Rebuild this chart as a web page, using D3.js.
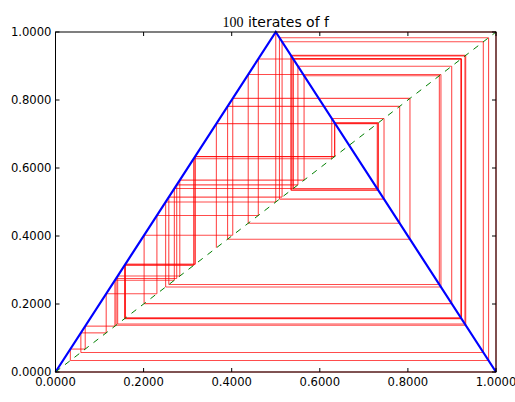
<!DOCTYPE html>
<html>
<head>
<meta charset="utf-8">
<script src="https://cdn.jsdelivr.net/npm/d3@7"></script>
<style>
  body { margin: 0; background: #fff; }
  text { font-family: "DejaVu Sans", sans-serif; fill: #000; }
</style>
</head>
<body>
<svg id="chart" width="515" height="402"></svg>
<script>
"use strict";

// values
let titleNumber = "100";
let titleText = " iterates of f";
let tentX = [0, 0.5, 1];
let tentY = [0, 1, 0];
let diagX = [0, 1];
let diagY = [0, 1];
let xTicks = [0, 0.2, 0.4, 0.6, 0.8, 1.0];
let yTicks = [0, 0.2, 0.4, 0.6, 0.8, 1.0];
// orbit x0..x100, traced from the cobweb
let iterates = [
  0.365201439601276, 0.730402879202552, 0.539194241594896, 0.921611516810208,
  0.156776966379583, 0.313553932759167, 0.627107865518333, 0.745784268963334,
  0.508431462073332, 0.983137075853335, 0.033725848293329, 0.067451696586659,
  0.134903393173317, 0.269806786346635, 0.539613572693270, 0.920772854613460,
  0.158454290773079, 0.316908581546159, 0.633817163092317, 0.732365673815366,
  0.535268652369268, 0.929462695261464, 0.141074609477073, 0.282149218954146,
  0.564298437908292, 0.871403124183416, 0.257193751633167, 0.514387503266335,
  0.971224993467331, 0.057550013065338, 0.115100026130676, 0.230200052261353,
  0.460400104522705, 0.920800209045410, 0.158399581909180, 0.316799163818359,
  0.633598327636719, 0.732803344726563, 0.534393310546875, 0.931213378906250,
  0.137573242187500, 0.275146484375, 0.55029296875, 0.8994140625,
  0.201171875, 0.40234375, 0.8046875, 0.390625, 0.78125, 0.4375,
  0.875, 0.25, 0.5, 1,
  0, 0, 0, 0, 0, 0, 0, 0, 0, 0, 0, 0, 0, 0, 0, 0,
  0, 0, 0, 0, 0, 0, 0, 0, 0, 0, 0, 0, 0, 0, 0, 0,
  0, 0, 0, 0, 0, 0, 0, 0, 0, 0, 0, 0, 0, 0, 0
];

function translate(x, y) {
  return "translate(" + x + "," + y + ")";
}

let svg = d3.select("#chart");
let marginLeft = 55.5, marginTop = 32;
let width = 440.5, height = 340;
let tickLen = 4;
let fmt = d3.format(".4f");

let x = d3.scaleLinear().domain([0, 1]).range([0, width]);
let y = d3.scaleLinear().domain([0, 1]).range([height, 0]);

let root = svg.append("g").attr("transform", translate(marginLeft, marginTop));

// cobweb: vertical to the curve, then horizontal to the diagonal
let segs = [];
for (let i = 0; i < iterates.length - 1; i++) {
  let a = iterates[i], b = iterates[i + 1];
  segs.push([a, a, a, b]);
  segs.push([a, b, b, b]);
}
root.append("g")
  .selectAll("line")
  .data(segs)
  .enter()
  .append("line")
  .attr("x1", (d) => x(d[0]))
  .attr("y1", (d) => y(d[1]))
  .attr("x2", (d) => x(d[2]))
  .attr("y2", (d) => y(d[3]))
  .attr("stroke", "#ff0000")
  .attr("stroke-opacity", 0.7)
  .attr("stroke-width", 1.1);

let line = d3.line().x((d) => x(d[0])).y((d) => y(d[1]));

root.append("path")
  .attr("d", line(tentX.map((v, i) => [v, tentY[i]])))
  .attr("fill", "none")
  .attr("stroke", "#0000ff")
  .attr("stroke-width", 2.2);

root.append("path")
  .attr("d", line(diagX.map((v, i) => [v, diagY[i]])))
  .attr("fill", "none")
  .attr("stroke", "#008000")
  .attr("stroke-width", 1)
  .attr("stroke-dasharray", "6,6");

// frame and inward ticks on all four sides
root.append("rect")
  .attr("width", width)
  .attr("height", height)
  .attr("fill", "none")
  .attr("stroke", "#000")
  .attr("stroke-width", 1);

let tk = root.append("g").attr("stroke", "#000").attr("stroke-width", 1);
xTicks.forEach((t) => {
  tk.append("line").attr("x1", x(t)).attr("x2", x(t)).attr("y1", height).attr("y2", height - tickLen);
  tk.append("line").attr("x1", x(t)).attr("x2", x(t)).attr("y1", 0).attr("y2", tickLen);
});
yTicks.forEach((t) => {
  tk.append("line").attr("x1", 0).attr("x2", tickLen).attr("y1", y(t)).attr("y2", y(t));
  tk.append("line").attr("x1", width).attr("x2", width - tickLen).attr("y1", y(t)).attr("y2", y(t));
});

root.append("g")
  .selectAll("text")
  .data(xTicks)
  .enter()
  .append("text")
  .attr("x", (d) => x(d))
  .attr("y", height + 14)
  .attr("text-anchor", "middle")
  .style("font-size", "11.6px")
  .text((d) => fmt(d));

root.append("g")
  .selectAll("text")
  .data(yTicks)
  .enter()
  .append("text")
  .attr("x", -4)
  .attr("y", (d) => y(d))
  .attr("dy", "0.36em")
  .attr("text-anchor", "end")
  .style("font-size", "11.6px")
  .text((d) => fmt(d));

let te = svg.append("text")
  .attr("x", marginLeft + width / 2)
  .attr("y", 27)
  .attr("text-anchor", "middle")
  .style("font-size", "14px");
te.append("tspan").style("font-family", "'Liberation Serif', serif").text(titleNumber);
te.append("tspan").text(titleText);
</script>
</body>
</html>
